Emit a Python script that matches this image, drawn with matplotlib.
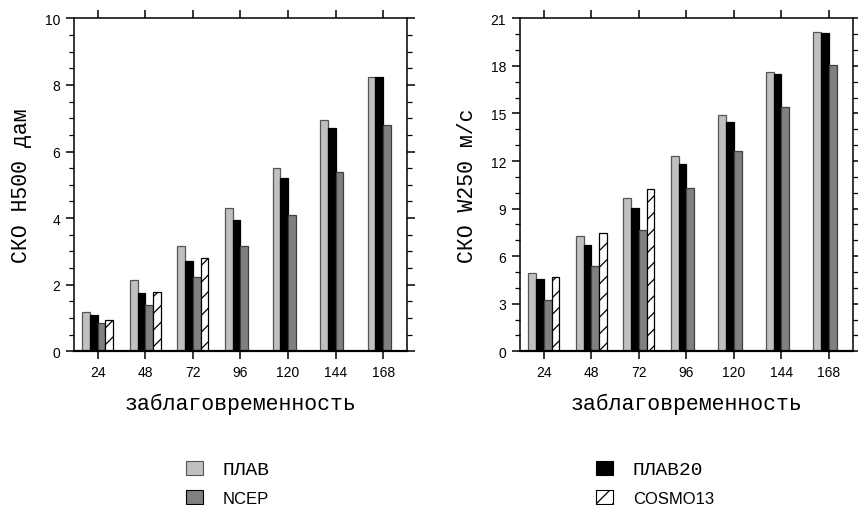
import matplotlib
matplotlib.use("Agg")
import matplotlib.pyplot as plt
import numpy as np
from matplotlib.patches import Patch
from matplotlib.ticker import MultipleLocator

plt.rcParams['hatch.linewidth'] = 0.9

lead_times = [24, 48, 72, 96, 120, 144, 168]
series_names = ["ПЛАВ", "ПЛАВ20", "NCEP", "COSMO13"]

h500_plav = [1.17, 2.14, 3.15, 4.29, 5.50, 6.94, 8.25]
h500_plav20 = [1.09, 1.75, 2.70, 3.95, 5.22, 6.72, 8.25]
h500_ncep = [0.86, 1.39, 2.23, 3.15, 4.09, 5.40, 6.79]
h500_cosmo = [0.93, 1.78, 2.81]

w250_plav = [4.92, 7.29, 9.67, 12.30, 14.92, 17.63, 20.16]
w250_plav20 = [4.56, 6.72, 9.04, 11.81, 14.44, 17.47, 20.07]
w250_ncep = [3.22, 5.36, 7.65, 10.28, 12.61, 15.43, 18.05]
w250_cosmo = [4.71, 7.46, 10.26]

styles = [
    dict(facecolor="#c0c0c0", edgecolor="#555555", hatch=None),
    dict(facecolor="#000000", edgecolor="#000000", hatch=None),
    dict(facecolor="#808080", edgecolor="#404040", hatch=None),
    dict(facecolor="white", edgecolor="black", hatch="//"),
]

mono = "Liberation Mono"
sans = "Liberation Sans"

fig = plt.figure(figsize=(8.58, 5.06), dpi=100)
ax1 = fig.add_axes([0.0862, 0.3037, 0.3881, 0.6581])
ax2 = fig.add_axes([0.6061, 0.3037, 0.3877, 0.6581])

bw = 3.9
offsets = [-1.5 * bw, -0.5 * bw, 0.5 * bw, 1.5 * bw]


def draw(ax, data, ymax, major, minor, ylabel):
    for i, (vals, st) in enumerate(zip(data, styles)):
        x = np.array(lead_times[:len(vals)]) + offsets[i]
        ax.bar(x, vals, width=bw, facecolor=st["facecolor"], edgecolor=st["edgecolor"],
               hatch=st["hatch"], linewidth=0.9, zorder=2)
    ax.set_xlim(12, 180)
    ax.set_ylim(0, ymax)
    ax.set_xticks(lead_times)
    ax.set_xticklabels([str(t) for t in lead_times], family=sans, fontsize=10)
    ax.yaxis.set_major_locator(MultipleLocator(major))
    ax.yaxis.set_minor_locator(MultipleLocator(minor))
    for lab in ax.get_yticklabels():
        lab.set_family(sans)
        lab.set_fontsize(10)
    ax.tick_params(axis="x", which="both", direction="out", top=True, bottom=True,
                   length=6, width=1.1, pad=4)
    ax.tick_params(axis="y", which="major", direction="out", left=True, right=True,
                   length=6, width=1.1, pad=4)
    ax.tick_params(axis="y", which="minor", direction="out", left=True, right=True,
                   length=3.5, width=0.9)
    for sp in ax.spines.values():
        sp.set_linewidth(1.1)
    ax.spines["bottom"].set_linewidth(1.6)
    ax.set_xlabel("заблаговременность", family=mono, fontsize=15.5, labelpad=10)
    ax.set_ylabel(ylabel, family=mono, fontsize=15.5, labelpad=9)


draw(ax1, [h500_plav, h500_plav20, h500_ncep, h500_cosmo], 10, 2, 0.5, "СКО H500 дам")
draw(ax2, [w250_plav, w250_plav20, w250_ncep, w250_cosmo], 21, 3, 1, "СКО W250 м/с")

handles = [Patch(facecolor=st["facecolor"], edgecolor="black" if i != 0 else "#555555",
                 hatch=st["hatch"], linewidth=0.8) for i, st in enumerate(styles)]

common = dict(loc="upper left", frameon=False, handlelength=1.0, handleheight=0.9,
              handletextpad=1.2, labelspacing=0.75, fontsize=12, borderaxespad=0,
              borderpad=0)
leg1 = fig.legend([handles[0], handles[2]], [series_names[0], series_names[2]],
                  bbox_to_anchor=(0.2168, 0.087), **common)
leg2 = fig.legend([handles[1], handles[3]], [series_names[1], series_names[3]],
                  bbox_to_anchor=(0.6946, 0.087), **common)
for leg in (leg1, leg2):
    for t in leg.get_texts():
        if t.get_text() in ("ПЛАВ", "ПЛАВ20"):
            t.set_family(mono)
            t.set_fontsize(14)
        else:
            t.set_family(sans)
            t.set_fontsize(12)

fig.savefig("out.png", dpi=100)
